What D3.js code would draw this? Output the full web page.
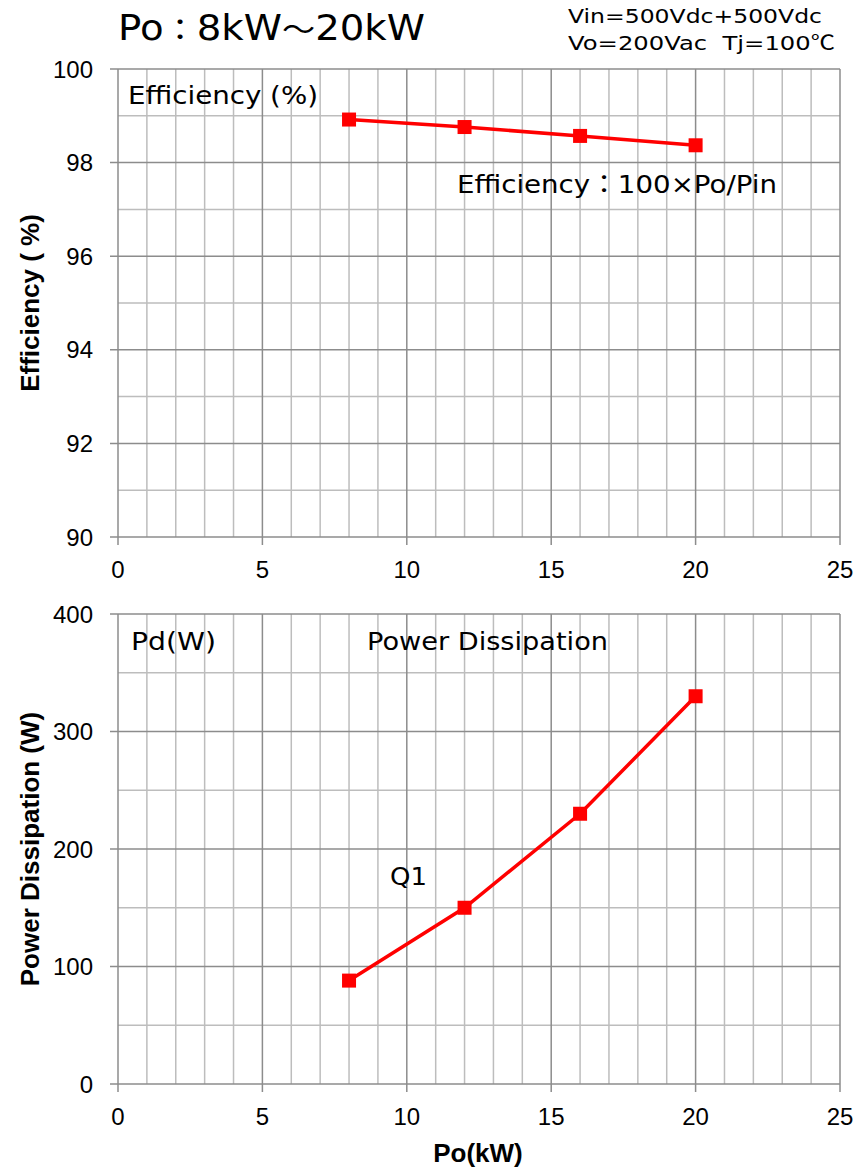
<!DOCTYPE html>
<html><head><meta charset="utf-8">
<script src="https://cdn.jsdelivr.net/npm/d3@7"></script>
<style>body{margin:0;background:#fff}</style>
</head><body>
<svg id="c" width="858" height="1169"></svg>
<script>
const poKW = [8, 12, 16, 20];
const efficiency = [98.92, 98.76, 98.57, 98.37];
const powerDiss = [88, 150, 230, 330];
const xTicks = [0, 5, 10, 15, 20, 25];
const effTicks = [90, 92, 94, 96, 98, 100];
const pdTicks = [0, 100, 200, 300, 400];

const svg = d3.select("#c");
const L = 118, R = 840;
const x = d3.scaleLinear().domain([0, 25]).range([L, R]);
const tickFont = "'Liberation Sans', Arial, sans-serif";
const noteFont = "'DejaVu Sans', Verdana, sans-serif";
const cjkFont = "'Noto Sans CJK JP', 'DejaVu Sans', sans-serif";

function panel(top, bottom, domain, major, minorStep, values, yTitle) {
  const y = d3.scaleLinear().domain(domain).range([bottom, top]);
  const g = svg.append("g");
  const xMinor = d3.range(0, 26, 1).filter(v => v % 5 !== 0);
  g.selectAll(".vx").data(xMinor).join("line")
    .attr("x1", d => x(d)).attr("x2", d => x(d)).attr("y1", top).attr("y2", bottom)
    .attr("stroke", "#bdbdbd").attr("stroke-width", 1.5);
  const yMinor = d3.range(domain[0], domain[1] + 1e-9, minorStep).filter(v => !major.includes(+v.toFixed(6)));
  g.selectAll(".hy").data(yMinor).join("line")
    .attr("x1", L).attr("x2", R).attr("y1", d => y(d)).attr("y2", d => y(d))
    .attr("stroke", "#bdbdbd").attr("stroke-width", 1.5);
  g.selectAll(".mx").data(xTicks).join("line")
    .attr("x1", d => x(d)).attr("x2", d => x(d)).attr("y1", top).attr("y2", bottom + 8)
    .attr("stroke", "#8c8c8c").attr("stroke-width", 1.5);
  g.selectAll(".my").data(major).join("line")
    .attr("x1", L - 8).attr("x2", R).attr("y1", d => y(d)).attr("y2", d => y(d))
    .attr("stroke", "#8c8c8c").attr("stroke-width", 1.5);
  g.selectAll(".yl").data(major).join("text")
    .attr("x", 93).attr("y", d => y(d) + 8.5).attr("text-anchor", "end")
    .attr("font-family", tickFont).attr("font-size", 24).attr("fill", "#000").text(d => d);
  g.selectAll(".xl").data(xTicks).join("text")
    .attr("x", d => x(d)).attr("y", bottom + 41).attr("text-anchor", "middle")
    .attr("font-family", tickFont).attr("font-size", 24).attr("fill", "#000").text(d => d);
  g.append("text").attr("transform", `translate(39,${(top + bottom) / 2}) rotate(-90)`)
    .attr("text-anchor", "middle").attr("font-family", tickFont).attr("font-weight", "bold")
    .attr("font-size", 26).text(yTitle);
  const pts = poKW.map((p, i) => [p, values[i]]);
  g.append("path").datum(pts)
    .attr("d", d3.line().x(d => x(d[0])).y(d => y(d[1])))
    .attr("fill", "none").attr("stroke", "#ff0000").attr("stroke-width", 3.5);
  g.selectAll(".pt").data(pts).join("rect")
    .attr("x", d => x(d[0]) - 7).attr("y", d => y(d[1]) - 7)
    .attr("width", 14).attr("height", 14).attr("fill", "#ff0000");
  return g;
}

panel(69, 537, [90, 100], effTicks, 1, efficiency, "Efficiency ( %)");
panel(614, 1084, [0, 400], pdTicks, 50, powerDiss, "Power Dissipation (W)");

// parts: [text, cjkSize or 0]
function note(parts, x0, y0, size, w) {
  const t = svg.append("text").attr("x", x0).attr("y", y0).attr("font-family", noteFont)
    .attr("font-size", size).attr("fill", "#000")
    .attr("textLength", w).attr("lengthAdjust", "spacingAndGlyphs");
  parts.forEach(p => {
    const s = t.append("tspan").attr("font-family", p[1] ? cjkFont : noteFont).text(p[0]);
    if (p[1]) s.attr("font-size", p[1]);
  });
}
note([["Po", 0], ["：", 30], ["8kW", 0], ["～", 30], ["20kW", 0]], 118, 40, 35, 307);
note([["Vin=500Vdc+500Vdc", 0]], 568, 23, 20, 254);
note([["Vo=200Vac\u00a0\u00a0Tj=100", 0], ["℃", 20]], 568, 50, 20, 267);
note([["Efficiency (%)", 0]], 128, 104, 25, 190);
note([["Efficiency", 0], ["：", 25], ["100×Po/Pin", 0]], 457, 193, 25, 320);
note([["Pd(W)", 0]], 131, 650, 25, 85);
note([["Power Dissipation", 0]], 367, 650, 25, 241);
note([["Q1", 0]], 390, 885, 25, 37);

svg.append("text").attr("x", 478).attr("y", 1162).attr("text-anchor", "middle")
  .attr("font-family", tickFont).attr("font-weight", "bold").attr("font-size", 26).text("Po(kW)");
</script>
</body></html>
